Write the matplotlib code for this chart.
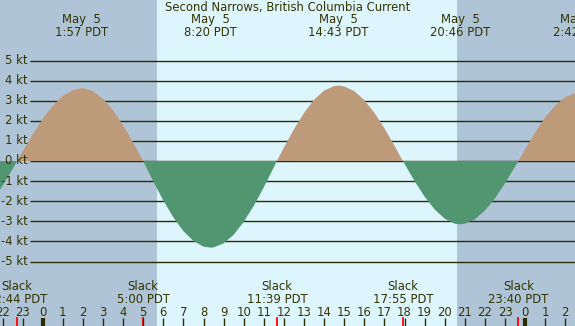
import matplotlib
matplotlib.use("Agg")
import matplotlib.pyplot as plt
from matplotlib.transforms import blended_transform_factory

# ---- data (hours relative to May 5 00:00 PDT, current in knots) ----
hours = [-2.2, -2.0, -1.5, -1.267, -1.0, -0.5, 0.0, 0.5, 1.0, 1.5, 1.95, 2.0, 2.5,
         3.0, 3.5, 4.0, 4.5, 5.0, 5.5, 6.0, 6.5, 7.0, 7.5, 8.0, 8.333, 8.5, 9.0,
         9.5, 10.0, 10.5, 11.0, 11.5, 11.65, 12.0, 12.5, 13.0, 13.5, 14.0, 14.5,
         14.717, 15.0, 15.5, 16.0, 16.5, 17.0, 17.5, 17.917, 18.0, 18.5, 19.0,
         19.5, 20.0, 20.5, 20.767, 21.0, 21.5, 22.0, 22.5, 23.0, 23.5, 23.667,
         24.0, 24.5, 25.0, 25.5, 26.0, 26.5, 26.7]
knots = [-1.55, -1.24, -0.40, 0.0, 0.47, 1.32, 2.10, 2.75, 3.24, 3.53, 3.62, 3.62, 3.48,
         3.10, 2.53, 1.78, 0.92, 0.0, -1.01, -1.96, -2.80, -3.49, -3.98, -4.26, -4.31, -4.30, -4.10,
         -3.67, -3.03, -2.23, -1.31, -0.31, 0.0, 0.67, 1.58, 2.39, 3.05, 3.50, 3.73,
         3.75, 3.71, 3.48, 3.03, 2.40, 1.63, 0.76, 0.0, -0.14, -1.00, -1.77,
         -2.41, -2.87, -3.12, -3.15, -3.12, -2.90, -2.47, -1.86, -1.11, -0.28, 0.0,
         0.58, 1.42, 2.17, 2.76, 3.18, 3.38, 3.40]

max_times = [1.95, 8.333, 14.717, 20.767, 26.7]
max_labels = ["May  5\n1:57 PDT", "May  5\n8:20 PDT", "May  5\n14:43 PDT",
              "May  5\n20:46 PDT", "May  6\n2:42 PDT"]
slack_times = [-1.267, 5.0, 11.65, 17.917, 23.667]
slack_labels = ["Slack\n22:44 PDT", "Slack\n5:00 PDT", "Slack\n11:39 PDT",
                "Slack\n17:55 PDT", "Slack\n23:40 PDT"]
sunrise, sunset = 5.69, 20.61
kt_levels = [5, 4, 3, 2, 1, 0, -1, -2, -3, -4, -5]
hour_ticks = list(range(-2, 27))
title = "Second Narrows, British Columbia Current"

# ---- style ----
NIGHT = "#b0c4d8"
DAY = "#ddf6fe"
FLOOD = "#bd9a7a"
EBB = "#519670"
TXT = "#333300"
LINE = "#2b2b00"
FS = 8.4

W, H = 575, 326
PXH = 20.1          # px per hour
X0 = 42.7           # pixel of hour 0
PXK = 20.1          # px per knot
Y0 = 161            # pixel of 0 kt

fig = plt.figure(figsize=(W / 100, H / 100), dpi=100)
ax = fig.add_axes([0, 0, 1, 1])
ax.set_xlim(-X0 / PXH, (W - X0) / PXH)
ax.set_ylim(-(H - Y0) / PXK, Y0 / PXK)
ax.axis("off")
ax.set_facecolor(DAY)
fig.patch.set_facecolor(DAY)

xl = ax.get_xlim()
ax.axvspan(xl[0], sunrise, color=NIGHT, lw=0, zorder=0)
ax.axvspan(sunset, xl[1], color=NIGHT, lw=0, zorder=0)

gx0 = (30 - X0) / PXH
for k in kt_levels:
    ax.plot([gx0, xl[1]], [k, k], color=LINE, lw=1.0, zorder=1, solid_capstyle="butt")
    ax.text(gx0 - 0.1, k, f"{k} kt", ha="right", va="center", fontsize=FS, color=TXT)

ax.fill_between(hours, knots, 0, where=[v >= 0 for v in knots], interpolate=True,
                color=FLOOD, lw=0, zorder=2)
ax.fill_between(hours, knots, 0, where=[v <= 0 for v in knots], interpolate=True,
                color=EBB, lw=0, zorder=2)

tr = blended_transform_factory(ax.transData, ax.transAxes)
def fy(py):
    return 1 - py / H

ax.text(0.5, fy(7.5), title, transform=ax.transAxes, ha="center", va="center",
        fontsize=FS, color=TXT)
for t, lab in zip(max_times, max_labels):
    ax.text(t, fy(26), lab, transform=tr, ha="center", va="center", fontsize=FS,
            color=TXT, linespacing=1.0)
for t, lab in zip(slack_times, slack_labels):
    ax.text(t, fy(293), lab, transform=tr, ha="center", va="center", fontsize=FS,
            color=TXT, linespacing=1.0)
    ax.plot([t, t], [fy(318), fy(326)], transform=tr, color="#ff0000", lw=1.3, zorder=3)
for h in hour_ticks:
    ax.text(h, fy(312), str(h % 24), transform=tr, ha="center", va="center",
            fontsize=FS, color=TXT)
    ax.plot([h, h], [fy(318), fy(326)], transform=tr, color=LINE,
            lw=3 if h % 24 == 0 else 1, zorder=3, solid_capstyle="butt")

fig.savefig("out.png", dpi=100, facecolor=fig.get_facecolor())
